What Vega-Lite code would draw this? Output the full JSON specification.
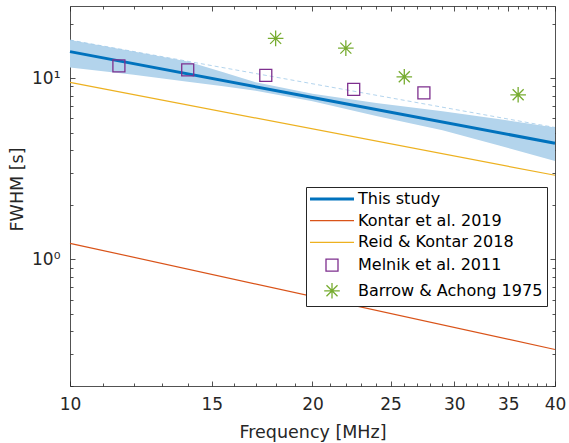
{
  "$schema": "https://vega.github.io/schema/vega-lite/v6.json",
  "width": 485,
  "height": 380,
  "autosize": "none",
  "padding": {"left": 70, "top": 6, "right": 14, "bottom": 57},
  "background": "white",
  "config": {
    "view": {"stroke": null},
    "font": "DejaVu Sans",
    "axis": {
      "grid": false,
      "domainColor": "#262626",
      "domainWidth": 0.8,
      "tickColor": "#262626",
      "tickWidth": 0.8,
      "labelColor": "#262626",
      "titleColor": "#262626",
      "labelFont": "DejaVu Sans",
      "titleFont": "DejaVu Sans",
      "labelFontSize": 17,
      "titleFontSize": 17.5,
      "titleFontWeight": "normal",
      "labelOverlap": false,
      "labelFlush": false
    },
    "legend": {
      "orient": "none",
      "legendX": 236,
      "legendY": 181,
      "labelFont": "DejaVu Sans",
      "labelFontSize": 16,
      "labelColor": "#000000",
      "labelLimit": 400,
      "strokeColor": "#262626",
      "fillColor": "white",
      "padding": 4,
      "rowPadding": 5.7,
      "symbolSize": 144,
      "symbolOffset": 14,
      "labelOffset": 18,
      "symbolStrokeWidth": 1.3,
      "symbolFillColor": "transparent",
      "cornerRadius": 0
    }
  },
  "datasets": {
    "band": [
      {"f": 10, "lo": 11.46, "hi": 16.22},
      {"f": 12, "lo": 10.45, "hi": 14.01},
      {"f": 14, "lo": 9.56, "hi": 12.34},
      {"f": 15.5, "lo": 9.03, "hi": 10.79},
      {"f": 17, "lo": 8.53, "hi": 9.5},
      {"f": 20, "lo": 7.46, "hi": 8.21},
      {"f": 24, "lo": 6.17, "hi": 7.28},
      {"f": 29, "lo": 5.16, "hi": 6.57},
      {"f": 34, "lo": 4.26, "hi": 5.94},
      {"f": 40, "lo": 3.49, "hi": 5.34}
    ],
    "dashed": [
      {"f": 10, "v": 16.22},
      {"f": 40, "v": 5.34}
    ],
    "study": [
      {"f": 10, "v": 14.0, "series": "This study"},
      {"f": 20, "v": 7.82, "series": "This study"},
      {"f": 40, "v": 4.37, "series": "This study"}
    ],
    "lit": [
      {"f": 10, "v": 1.226, "series": "Kontar et al. 2019"},
      {"f": 40, "v": 0.318, "series": "Kontar et al. 2019"},
      {"f": 10, "v": 9.47, "series": "Reid & Kontar 2018"},
      {"f": 40, "v": 2.91, "series": "Reid & Kontar 2018"}
    ],
    "obs": [
      {"f": 11.5, "v": 11.69, "series": "Melnik et al. 2011"},
      {"f": 14, "v": 11.11, "series": "Melnik et al. 2011"},
      {"f": 17.5, "v": 10.35, "series": "Melnik et al. 2011"},
      {"f": 22.5, "v": 8.66, "series": "Melnik et al. 2011"},
      {"f": 27.5, "v": 8.29, "series": "Melnik et al. 2011"},
      {"f": 18, "v": 16.57, "series": "Barrow & Achong 1975"},
      {"f": 22, "v": 14.64, "series": "Barrow & Achong 1975"},
      {"f": 26, "v": 10.17, "series": "Barrow & Achong 1975"},
      {"f": 36, "v": 8.09, "series": "Barrow & Achong 1975"}
    ]
  },
  "layer": [
    {
      "data": {"name": "band"},
      "mark": {"type": "area", "color": "#B3D4EC"},
      "encoding": {
        "x": {
          "field": "f", "type": "quantitative",
          "scale": {"type": "log", "domain": [10, 40], "nice": false},
          "axis": {
            "orient": "bottom",
            "title": "Frequency [MHz]",
            "values": [10,11,12,13,14,15,16,17,18,19,20,21,22,23,24,25,26,27,28,29,30,31,32,33,34,35,36,37,38,39,40],
            "labelExpr": "datum.value % 5 === 0 ? '' + datum.value : ''",
            "tickSize": {"condition": {"test": "datum.value % 5 === 0", "value": -5}, "value": -3},
            "labelPadding": 15,
            "titleX": 242.5,
            "titleY": 51,
            "titleAlign": "center",
            "titleBaseline": "alphabetic"
          }
        },
        "y": {
          "field": "hi", "type": "quantitative",
          "scale": {"type": "log", "domain": [0.2, 25], "nice": false},
          "axis": {
            "orient": "left",
            "title": "FWHM [s]",
            "values": [0.2,0.3,0.4,0.5,0.6,0.7,0.8,0.9,1,2,3,4,5,6,7,8,9,10,20],
            "labelExpr": "datum.value === 1 ? '10⁰' : (datum.value === 10 ? '10¹' : '')",
            "tickSize": {"condition": {"test": "datum.value === 1 || datum.value === 10", "value": -5}, "value": -3},
            "labelPadding": 15,
            "titleX": -53,
            "titleY": 183,
            "titleAngle": 270,
            "titleAlign": "center",
            "titleBaseline": "middle"
          }
        },
        "y2": {"field": "lo"}
      }
    },
    {
      "data": {"name": "dashed"},
      "mark": {"type": "line", "color": "#9FC9E9", "strokeWidth": 0.8, "strokeDash": [4, 3]},
      "encoding": {
        "x": {
          "field": "f", "type": "quantitative",
          "axis": {
            "orient": "top", "title": null, "labels": false,
            "values": [10,11,12,13,14,15,16,17,18,19,20,21,22,23,24,25,26,27,28,29,30,31,32,33,34,35,36,37,38,39,40],
            "tickSize": {"condition": {"test": "datum.value % 5 === 0", "value": -5}, "value": -3}
          }
        },
        "y": {
          "field": "v", "type": "quantitative",
          "axis": {
            "orient": "right", "title": null, "labels": false,
            "values": [0.2,0.3,0.4,0.5,0.6,0.7,0.8,0.9,1,2,3,4,5,6,7,8,9,10,20],
            "tickSize": {"condition": {"test": "datum.value === 1 || datum.value === 10", "value": -5}, "value": -3}
          }
        }
      }
    },
    {
      "data": {"name": "study"},
      "mark": {"type": "line", "strokeWidth": 3},
      "encoding": {
        "x": {"field": "f", "type": "quantitative", "axis": null},
        "y": {"field": "v", "type": "quantitative", "axis": null},
        "color": {
          "field": "series", "type": "nominal", "title": null,
          "scale": {
            "domain": ["This study", "Kontar et al. 2019", "Reid & Kontar 2018", "Melnik et al. 2011", "Barrow & Achong 1975"],
            "range": ["#0072BD", "#D95319", "#EDB120", "#7E2F8E", "#77AC30"]
          },
          "legend": {"encode": {"symbols": {"update": {"strokeWidth": {"signal": "datum.value === 'This study' ? 3 : 1.3"}}}}}
        }
      }
    },
    {
      "data": {"name": "lit"},
      "mark": {"type": "line", "strokeWidth": 1.2},
      "encoding": {
        "x": {"field": "f", "type": "quantitative", "axis": null},
        "y": {"field": "v", "type": "quantitative", "axis": null},
        "detail": {"field": "series"},
        "color": {
          "field": "series", "type": "nominal", "title": null,
          "legend": {"encode": {"symbols": {"update": {"strokeWidth": {"signal": "datum.value === 'This study' ? 3 : 1.3"}}}}}
        }
      }
    },
    {
      "data": {"name": "obs"},
      "mark": {"type": "point", "filled": false, "strokeWidth": 1.3, "size": 144, "opacity": 1},
      "encoding": {
        "x": {"field": "f", "type": "quantitative", "axis": null},
        "y": {"field": "v", "type": "quantitative", "axis": null},
        "color": {
          "field": "series", "type": "nominal", "title": null,
          "legend": {"encode": {"symbols": {"update": {"strokeWidth": {"signal": "datum.value === 'This study' ? 3 : 1.3"}}}}}
        },
        "shape": {
          "field": "series", "type": "nominal", "title": null,
          "scale": {
            "domain": ["This study", "Kontar et al. 2019", "Reid & Kontar 2018", "Melnik et al. 2011", "Barrow & Achong 1975"],
            "range": ["M-3.667,0L3.667,0", "M-3.667,0L3.667,0", "M-3.667,0L3.667,0", "square", "M-1.3,0L1.3,0M0,-1.3L0,1.3M-0.92,-0.92L0.92,0.92M-0.92,0.92L0.92,-0.92"]
          }
        }
      }
    }
  ],
  "resolve": {"axis": {"x": "independent", "y": "independent"}}
}
